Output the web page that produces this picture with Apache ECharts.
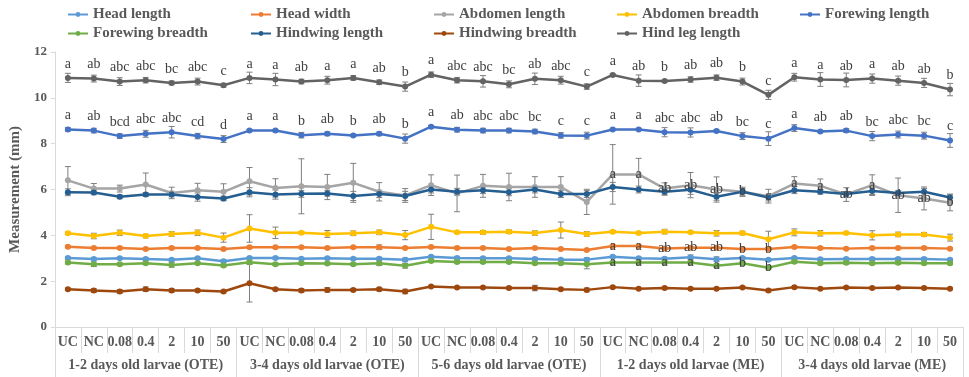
<!DOCTYPE html>
<html>
<head>
<meta charset="utf-8">
<script src="https://cdn.jsdelivr.net/npm/echarts@6/dist/echarts.min.js"></script>
<style>
  html, body { margin: 0; padding: 0; background: #fff; }
  #chart { width: 969px; height: 377px; }
</style>
</head>
<body>
<div id="chart"></div>
<script>
var myChart = echarts.init(document.getElementById('chart'));

// 横轴类别
let doses = ['UC', 'NC', '0.08', '0.4', '2', '10', '50'];
let groups = ['1-2 days old larvae (OTE)', '3-4 days old larvae (OTE)', '5-6 days old larvae (OTE)', '1-2 days old larvae (ME)', '3-4 days old larvae (ME)'];
let categories = [];
groups.forEach(function () { doses.forEach(function (d) { categories.push(d); }); });

// 各系列数值 (mm)
let headLength = [3.01, 2.97, 3.0, 2.97, 2.93, 3.0, 2.87, 3.01, 3.01, 2.98, 3.0, 2.98, 2.98, 2.93, 3.07, 3.01, 3.0, 3.0, 2.97, 2.94, 2.94, 3.07, 3.0, 2.98, 3.04, 2.96, 3.01, 2.93, 3.01, 2.96, 2.97, 2.97, 2.97, 2.97, 2.94];
let headWidth = [3.5, 3.45, 3.45, 3.4, 3.45, 3.45, 3.4, 3.48, 3.48, 3.48, 3.45, 3.48, 3.48, 3.45, 3.49, 3.45, 3.45, 3.4, 3.45, 3.4, 3.36, 3.53, 3.53, 3.43, 3.46, 3.46, 3.4, 3.4, 3.49, 3.45, 3.42, 3.45, 3.45, 3.45, 3.42];
let abdomenLength = [6.4, 6.04, 6.04, 6.22, 5.85, 5.97, 5.9, 6.36, 6.07, 6.14, 6.11, 6.29, 5.9, 5.74, 6.19, 5.83, 6.16, 6.11, 6.11, 6.11, 5.46, 6.66, 6.66, 6.04, 6.19, 6.0, 5.9, 5.71, 6.26, 6.16, 5.78, 6.19, 5.75, 5.61, 5.42];
let abdomenBreadth = [4.09, 3.97, 4.11, 3.97, 4.06, 4.11, 3.9, 4.3, 4.11, 4.11, 4.06, 4.09, 4.13, 4.01, 4.37, 4.13, 4.13, 4.16, 4.1, 4.23, 4.06, 4.16, 4.1, 4.16, 4.13, 4.09, 4.1, 3.83, 4.13, 4.09, 4.1, 4.0, 4.04, 4.04, 3.9];
let forewingLength = [8.62, 8.57, 8.33, 8.43, 8.5, 8.33, 8.2, 8.57, 8.57, 8.37, 8.43, 8.36, 8.43, 8.22, 8.74, 8.61, 8.57, 8.57, 8.53, 8.36, 8.35, 8.62, 8.62, 8.5, 8.49, 8.55, 8.33, 8.22, 8.68, 8.53, 8.57, 8.33, 8.4, 8.35, 8.14];
let forewingBreadth = [2.81, 2.74, 2.74, 2.78, 2.71, 2.78, 2.68, 2.83, 2.74, 2.78, 2.77, 2.74, 2.78, 2.67, 2.88, 2.84, 2.84, 2.84, 2.78, 2.78, 2.74, 2.81, 2.81, 2.81, 2.81, 2.67, 2.78, 2.59, 2.85, 2.78, 2.8, 2.78, 2.8, 2.78, 2.78];
let hindwingLength = [5.88, 5.87, 5.68, 5.78, 5.78, 5.67, 5.61, 5.88, 5.78, 5.81, 5.83, 5.72, 5.8, 5.72, 6.0, 5.9, 5.97, 5.88, 6.0, 5.8, 5.8, 6.11, 6.0, 5.9, 5.99, 5.68, 5.9, 5.65, 5.97, 5.9, 5.8, 5.93, 5.85, 5.9, 5.65];
let hindwingBreadth = [1.65, 1.59, 1.55, 1.65, 1.59, 1.59, 1.55, 1.91, 1.65, 1.59, 1.62, 1.62, 1.65, 1.55, 1.77, 1.72, 1.72, 1.7, 1.7, 1.65, 1.62, 1.74, 1.67, 1.7, 1.67, 1.67, 1.72, 1.59, 1.74, 1.67, 1.72, 1.7, 1.72, 1.7, 1.67];
let hindLegLength = [10.87, 10.84, 10.71, 10.77, 10.65, 10.71, 10.55, 10.87, 10.8, 10.71, 10.77, 10.87, 10.68, 10.49, 11.01, 10.77, 10.72, 10.59, 10.83, 10.77, 10.49, 11.0, 10.75, 10.73, 10.8, 10.88, 10.71, 10.13, 10.9, 10.8, 10.78, 10.84, 10.75, 10.65, 10.36];

// 误差 (±)
let headLengthErr = [0.05, 0.05, 0.05, 0.05, 0.06, 0.05, 0.06, 0.05, 0.05, 0.05, 0.05, 0.05, 0.06, 0.08, 0.05, 0.05, 0.05, 0.05, 0.06, 0.05, 0.08, 0.05, 0.05, 0.06, 0.1, 0.1, 0.06, 0.05, 0.05, 0.05, 0.05, 0.06, 0.06, 0.06, 0.05];
let headWidthErr = [0.04, 0.04, 0.04, 0.04, 0.04, 0.04, 0.04, 0.04, 0.04, 0.04, 0.04, 0.04, 0.1, 0.04, 0.04, 0.04, 0.04, 0.04, 0.04, 0.04, 0.04, 0.04, 0.04, 0.04, 0.04, 0.04, 0.04, 0.04, 0.04, 0.04, 0.04, 0.04, 0.04, 0.04, 0.04];
let abdomenLengthErr = [0.6, 0.22, 0.15, 0.5, 0.25, 0.3, 0.35, 0.6, 0.4, 1.2, 0.55, 0.85, 0.4, 0.3, 0.45, 0.8, 0.5, 0.6, 0.45, 0.45, 0.55, 1.3, 0.7, 0.25, 0.55, 0.55, 0.2, 0.3, 0.3, 0.3, 0.3, 0.45, 0.75, 0.5, 0.35];
let abdomenBreadthErr = [0.05, 0.12, 0.12, 0.08, 0.1, 0.12, 0.2, 0.6, 0.25, 0.05, 0.15, 0.1, 0.1, 0.2, 0.55, 0.05, 0.08, 0.08, 0.1, 0.35, 0.1, 0.05, 0.05, 0.1, 0.05, 0.12, 0.08, 0.35, 0.15, 0.12, 0.05, 0.2, 0.1, 0.08, 0.15];
let forewingLengthErr = [0.08, 0.1, 0.1, 0.15, 0.25, 0.12, 0.15, 0.05, 0.05, 0.12, 0.08, 0.05, 0.08, 0.2, 0.05, 0.1, 0.1, 0.1, 0.1, 0.12, 0.15, 0.05, 0.05, 0.2, 0.2, 0.05, 0.15, 0.3, 0.15, 0.05, 0.08, 0.2, 0.15, 0.15, 0.3];
let forewingBreadthErr = [0.06, 0.1, 0.06, 0.06, 0.1, 0.06, 0.06, 0.06, 0.06, 0.06, 0.06, 0.06, 0.1, 0.1, 0.06, 0.06, 0.06, 0.06, 0.06, 0.06, 0.2, 0.06, 0.06, 0.06, 0.06, 0.08, 0.06, 0.06, 0.06, 0.06, 0.06, 0.06, 0.06, 0.06, 0.06];
let hindwingLengthErr = [0.15, 0.1, 0.08, 0.08, 0.1, 0.18, 0.1, 0.2, 0.2, 0.15, 0.12, 0.2, 0.15, 0.2, 0.15, 0.15, 0.15, 0.15, 0.15, 0.15, 0.15, 0.2, 0.15, 0.15, 0.2, 0.15, 0.15, 0.15, 0.15, 0.1, 0.1, 0.15, 0.1, 0.15, 0.15];
let hindwingBreadthErr = [0.05, 0.08, 0.08, 0.1, 0.08, 0.06, 0.06, 0.82, 0.06, 0.08, 0.1, 0.06, 0.08, 0.1, 0.04, 0.04, 0.04, 0.05, 0.12, 0.05, 0.08, 0.04, 0.04, 0.04, 0.04, 0.04, 0.04, 0.06, 0.04, 0.04, 0.04, 0.04, 0.04, 0.04, 0.04];
let hindLegLengthErr = [0.2, 0.15, 0.17, 0.12, 0.08, 0.15, 0.08, 0.25, 0.27, 0.1, 0.17, 0.1, 0.1, 0.2, 0.12, 0.12, 0.25, 0.15, 0.25, 0.17, 0.12, 0.05, 0.25, 0.05, 0.12, 0.12, 0.15, 0.2, 0.17, 0.3, 0.3, 0.2, 0.2, 0.2, 0.27];

// 显著性字母
let hindLegLetters = ['a', 'ab', 'abc', 'abc', 'bc', 'abc', 'c', 'a', 'a', 'ab', 'a', 'a', 'ab', 'b', 'a', 'abc', 'abc', 'bc', 'ab', 'abc', 'c', 'a', 'ab', 'b', 'ab', 'ab', 'b', 'c', 'a', 'a', 'ab', 'a', 'ab', 'ab', 'b'];
let forewingLetters = ['a', 'ab', 'bcd', 'abc', 'abc', 'cd', 'd', 'a', 'a', 'b', 'ab', 'b', 'ab', 'b', 'a', 'ab', 'abc', 'abc', 'bc', 'c', 'c', 'a', 'a', 'abc', 'abc', 'ab', 'bc', 'c', 'a', 'ab', 'ab', 'bc', 'abc', 'bc', 'c'];
let abdomenLengthLetters = ['', '', '', '', '', '', '', '', '', '', '', '', '', '', '', '', '', '', '', '', '', 'a', 'a', 'ab', 'ab', 'ab', 'b', 'c', 'a', 'a', 'ab', 'a', 'ab', 'ab', 'b'];
let headWidthLetters = ['', '', '', '', '', '', '', '', '', '', '', '', '', '', '', '', '', '', '', '', '', 'a', 'a', 'ab', 'ab', 'ab', 'b', 'b', '', '', '', '', '', '', ''];
let forewingBreadthLetters = ['', '', '', '', '', '', '', '', '', '', '', '', '', '', '', '', '', '', '', '', '', 'a', 'a', 'a', 'a', 'a', 'b', 'b', '', '', '', '', '', '', ''];

let font = 'Liberation Serif';
let textColor = '#595959';
let lineGray = '#D9D9D9';

let seriesList = [
    { name: 'Head length', data: headLength, err: headLengthErr, color: '#5B9BD5' },
    { name: 'Head width', data: headWidth, err: headWidthErr, color: '#ED7D31', letters: headWidthLetters, pos: 'inside' },
    { name: 'Abdomen length', data: abdomenLength, err: abdomenLengthErr, color: '#A5A5A5', letters: abdomenLengthLetters, pos: 'inside' },
    { name: 'Abdomen breadth', data: abdomenBreadth, err: abdomenBreadthErr, color: '#FFC000' },
    { name: 'Forewing length', data: forewingLength, err: forewingLengthErr, color: '#4472C4', letters: forewingLetters, pos: 'top' },
    { name: 'Forewing breadth', data: forewingBreadth, err: forewingBreadthErr, color: '#70AD47', letters: forewingBreadthLetters, pos: 'inside' },
    { name: 'Hindwing length', data: hindwingLength, err: hindwingLengthErr, color: '#255E91' },
    { name: 'Hindwing breadth', data: hindwingBreadth, err: hindwingBreadthErr, color: '#9E480E' },
    { name: 'Hind leg length', data: hindLegLength, err: hindLegLengthErr, color: '#636363', letters: hindLegLetters, pos: 'top' }
];

// 误差线
function errorBar(params, api) {
    var i = api.value(0), v = api.value(1), e = api.value(2);
    var top = api.coord([i, v + e]);
    var bot = api.coord([i, v - e]);
    var w = 3;
    var style = { stroke: '#7F7F7F', lineWidth: 1 };
    return {
        type: 'group',
        children: [
            { type: 'line', shape: { x1: top[0], y1: top[1], x2: bot[0], y2: bot[1] }, style: style },
            { type: 'line', shape: { x1: top[0] - w, y1: top[1], x2: top[0] + w, y2: top[1] }, style: style },
            { type: 'line', shape: { x1: bot[0] - w, y1: bot[1], x2: bot[0] + w, y2: bot[1] }, style: style }
        ]
    };
}

let series = [];
seriesList.forEach(function (s) {
    let line = {
        name: s.name,
        type: 'line',
        data: s.data,
        symbol: 'circle',
        symbolSize: 6,
        color: s.color,
        lineStyle: { width: 2.5, color: s.color },
        itemStyle: { color: s.color },
        animation: false
    };
    if (s.letters) {
        let letters = s.letters;
        line.label = {
            show: true,
            position: s.pos,
            distance: 4,
            formatter: function (p) { return letters[p.dataIndex]; },
            fontFamily: font,
            fontSize: 14,
            color: '#404040'
        };
    }
    series.push(line);
});
seriesList.forEach(function (s) {
    series.push({
        name: s.name + ' err',
        type: 'custom',
        renderItem: errorBar,
        data: s.data.map(function (v, i) { return [i, v, s.err[i]]; }),
        encode: { x: 0, y: 1 },
        z: 3,
        animation: false,
        silent: true
    });
});

// 图例：5列2行，每项单独定位
let legends = seriesList.map(function (s, k) {
    return {
        left: 62 + (k % 5) * 183,
        top: k < 5 ? 2 : 21,
        itemWidth: 20,
        itemHeight: 6,
        data: [s.name],
        textStyle: { fontFamily: font, fontWeight: 'bold', fontSize: 15, color: textColor }
    };
});

option = {
    animation: false,
    legend: legends,
    grid: { left: 44, right: 6, top: 52, bottom: 50, containLabel: false },
    xAxis: [
        {
            type: 'category',
            data: categories,
            axisLine: { lineStyle: { color: lineGray } },
            axisTick: { show: true, interval: 0, length: 26, lineStyle: { color: lineGray } },
            axisLabel: { interval: 0, margin: 8, fontFamily: font, fontWeight: 'bold', fontSize: 14, color: textColor }
        },
        {
            type: 'category',
            data: groups,
            position: 'bottom',
            axisLine: { show: false },
            axisTick: { show: true, interval: 0, length: 50, lineStyle: { color: lineGray } },
            axisLabel: { interval: 0, margin: 31, fontFamily: font, fontWeight: 'bold', fontSize: 14, color: textColor }
        }
    ],
    yAxis: {
        type: 'value',
        min: 0,
        max: 12,
        interval: 2,
        name: 'Measurement (mm)',
        nameLocation: 'middle',
        nameGap: 24,
        nameTextStyle: { fontFamily: font, fontWeight: 'bold', fontSize: 15, color: textColor },
        splitLine: { show: false },
        axisLine: { show: true, lineStyle: { color: lineGray } },
        axisTick: { show: true, length: 4, lineStyle: { color: lineGray } },
        axisLabel: { margin: 8, fontFamily: font, fontWeight: 'bold', fontSize: 13, color: textColor }
    },
    series: series
};

myChart.setOption(option);
</script>
</body>
</html>
